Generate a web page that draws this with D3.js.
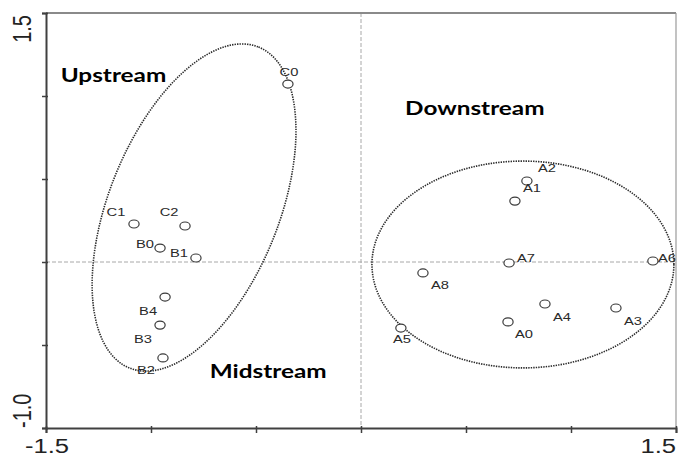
<!DOCTYPE html>
<html>
<head>
<meta charset="utf-8">
<script src="https://cdn.jsdelivr.net/npm/d3@7"></script>
<style>
  html, body { margin: 0; padding: 0; background: #fff; }
  svg { display: block; }
</style>
</head>
<body>
<svg id="chart" width="678" height="457"></svg>
<script>
// Ordination scores of the sampling sites (axis 1 horizontal, axis 2 vertical)
const sites = ["C0", "C1", "C2", "B0", "B1", "B4", "B3", "B2",
               "A2", "A1", "A7", "A6", "A8", "A4", "A3", "A0", "A5"];
const axis1 = [-0.348, -1.081, -0.838, -0.957, -0.786, -0.933, -0.957, -0.943,
               0.790, 0.733, 0.705, 1.390, 0.295, 0.876, 1.214, 0.700, 0.190];
const axis2 = [1.072, 0.229, 0.217, 0.084, 0.024, -0.211, -0.380, -0.578,
               0.488, 0.367, -0.006, 0.006, -0.066, -0.253, -0.277, -0.361, -0.398];

// Axis ticks and the two labelled extremes
const xTicks = [-1.5, -1.0, -0.5, 0, 0.5, 1.0, 1.5];
const yTicks = [-1.0, -0.5, 0, 0.5, 1.0, 1.5];
const xTickLabels = ["-1.5", "1.5"];
const yTickLabels = ["-1.0", "1.5"];

// Group envelopes: centre and two semi-axis vectors, in axis units
const groupNames = ["Upstream/Midstream", "Downstream"];
const groupCentres = [[-0.795, 0.328], [0.771, -0.015]];
const groupAxisU = [[0.307, 0.967], [0.719, 0]];
const groupAxisV = [[0.376, -0.191], [0, 0.623]];

// Reach names written on the plot, with their anchor positions in axis units
const reachNames = ["Upstream", "Downstream", "Midstream"];
const reachX = [-1.43, 0.21, -0.72];
const reachY = [1.085, 0.885, -0.700];

// ---------------------------------------------------------------------
const svg = d3.select("#chart");
const sx = 1.28;               // horizontal stretch of glyphs and markers
const plotL = 46, plotR = 676, plotT = 13, plotB = 428;

const x = d3.scaleLinear().domain([-1.5, 1.5]).range([plotL, plotR]);
const y = d3.scaleLinear().domain([-1.0, 1.5]).range([plotB, plotT]);

function stretchedText(g, px, py, str, attrs) {
  const t = g.append("text")
    .attr("transform", `translate(${px},${py}) scale(${sx},1)` + (attrs.rotate ? ` rotate(${attrs.rotate})` : ""))
    .text(str);
  Object.entries(attrs).forEach(([k, v]) => { if (k !== "rotate") t.attr(k, v); });
  return t;
}

// Zero reference lines
svg.append("line")
  .attr("x1", x(0)).attr("x2", x(0)).attr("y1", plotT).attr("y2", plotB)
  .attr("stroke", "#a8a8a8").attr("stroke-width", 1).attr("stroke-dasharray", "4,2");
svg.append("line")
  .attr("x1", plotL).attr("x2", plotR).attr("y1", y(0)).attr("y2", y(0))
  .attr("stroke", "#a8a8a8").attr("stroke-width", 1).attr("stroke-dasharray", "4,2");

// Frame: top and right edges
svg.append("line").attr("x1", plotL).attr("x2", plotR).attr("y1", plotT).attr("y2", plotT)
  .attr("stroke", "#8a8a8a").attr("stroke-width", 2);
svg.append("line").attr("x1", plotR).attr("x2", plotR).attr("y1", plotT).attr("y2", plotB)
  .attr("stroke", "#9a9a9a").attr("stroke-width", 1.2);

// Bottom axis
const xAxis = d3.axisBottom(x).tickValues(xTicks).tickSize(5).tickFormat("");
const gx = svg.append("g").attr("transform", `translate(0,${plotB})`).call(xAxis);
gx.select(".domain").attr("stroke", "#404040").attr("stroke-width", 2);
gx.selectAll(".tick line").attr("stroke", "#404040").attr("stroke-width", 1.5).attr("y1", -2);

// Left axis
const yAxis = d3.axisLeft(y).tickValues(yTicks).tickSize(4).tickFormat("");
const gy = svg.append("g").attr("transform", `translate(${plotL},0)`).call(yAxis);
gy.select(".domain").attr("stroke", "#404040").attr("stroke-width", 2);
gy.selectAll(".tick line").attr("stroke", "#404040").attr("stroke-width", 1.5).attr("x1", 2);

// Extreme tick labels
const tickFont = { "font-family": "Liberation Sans, Arial, sans-serif", "font-size": 20, fill: "#222" };
stretchedText(svg, x(-1.5) + 1, 453, xTickLabels[0], { ...tickFont, "text-anchor": "middle" });
stretchedText(svg, x(1.5), 453, xTickLabels[1], { ...tickFont, "text-anchor": "end" });
stretchedText(svg, 31, y(-1.0), yTickLabels[0], { ...tickFont, "text-anchor": "start", rotate: -90 });
stretchedText(svg, 31, y(1.5) + 2, yTickLabels[1], { ...tickFont, "text-anchor": "end", rotate: -90 });

// Dotted group envelopes
const ring = d3.range(0, 181).map(i => i / 180 * 2 * Math.PI);
const envelope = d3.line().x(d => x(d[0])).y(d => y(d[1]));
groupNames.forEach((name, i) => {
  const [cx, cy] = groupCentres[i], u = groupAxisU[i], v = groupAxisV[i];
  const pts = ring.map(t => [cx + Math.cos(t) * u[0] + Math.sin(t) * v[0],
                             cy + Math.cos(t) * u[1] + Math.sin(t) * v[1]]);
  svg.append("path")
    .attr("d", envelope(pts) + "Z")
    .attr("fill", "none")
    .attr("stroke", "#2a2a2a")
    .attr("stroke-width", 1.6)
    .attr("stroke-dasharray", "1.4,1.1");
});

// Site markers
const points = sites.map((s, i) => ({ site: s, a1: axis1[i], a2: axis2[i] }));
svg.append("g").selectAll("ellipse").data(points).join("ellipse")
  .attr("cx", d => x(d.a1)).attr("cy", d => y(d.a2))
  .attr("rx", 4.0 * sx).attr("ry", 4.0)
  .attr("fill", "#fff").attr("stroke", "#3a3a3a").attr("stroke-width", 1.2);

// Site label offsets (pixels, label centre relative to marker)
const labelOffset = {
  C0: [1, -12], C1: [-18, -12], C2: [-16, -14], B0: [-15, -4], B1: [-17, -5],
  B4: [-17, 14], B3: [-17, 14], B2: [-17, 12],
  A2: [20, -13], A1: [17, -13], A7: [17, -5], A6: [14, -3], A8: [17, 12],
  A4: [17, 13], A3: [17, 13], A0: [16, 12], A5: [1, 11]
};
const labelFont = { "font-family": "Liberation Sans, Arial, sans-serif", "font-size": 11.5,
                    fill: "#2a2a2a", "text-anchor": "middle", "dominant-baseline": "central" };
const gl = svg.append("g");
points.forEach(d => {
  const o = labelOffset[d.site];
  stretchedText(gl, x(d.a1) + o[0], y(d.a2) + o[1], d.site, labelFont);
});

// Reach names
const reachFont = { "font-family": "Lato, 'Open Sans', sans-serif", "font-size": 19,
                    "font-weight": "bold", fill: "#000", "text-anchor": "start" };
reachNames.forEach((n, i) => stretchedText(svg, x(reachX[i]), y(reachY[i]), n, reachFont));
</script>
</body>
</html>
